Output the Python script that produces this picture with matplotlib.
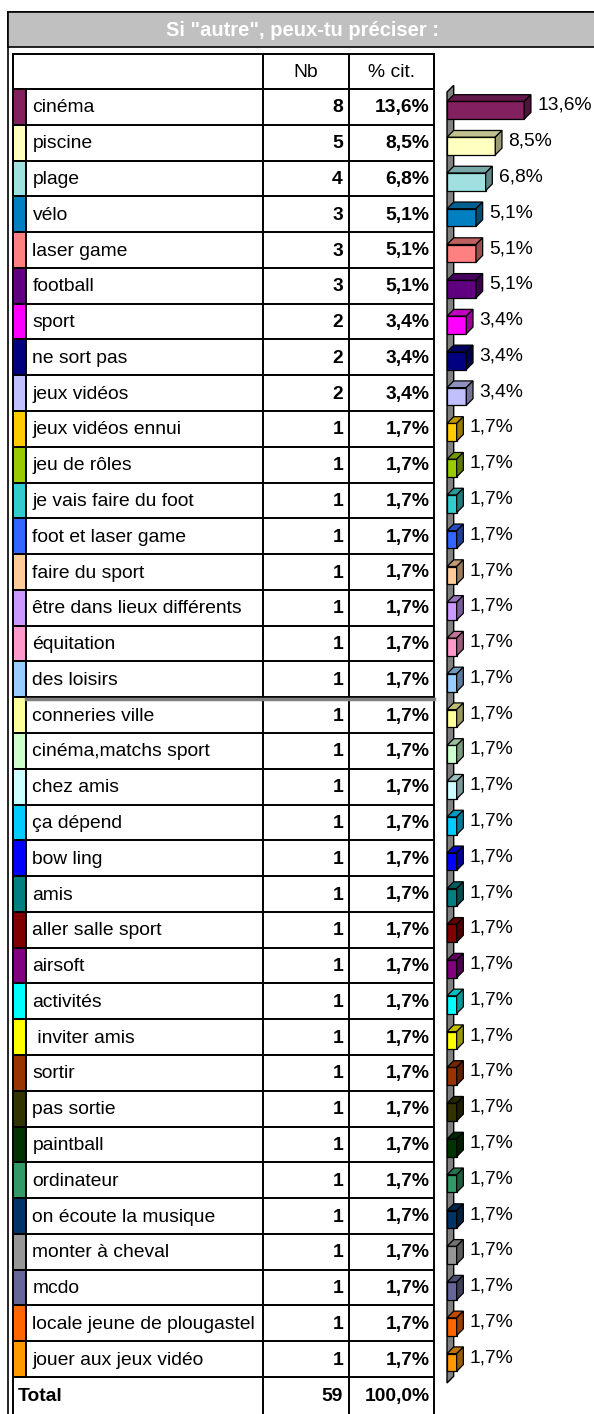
import matplotlib
matplotlib.use("Agg")
import matplotlib.pyplot as plt
from matplotlib.patches import Rectangle, Polygon

plt.rcParams['font.family'] = ['Liberation Sans', 'DejaVu Sans']

# ---------------- data ----------------
title = 'Si "autre", peux-tu préciser :'
header = ["Nb", "% cit."]
categories = [
    "cinéma", "piscine", "plage", "vélo", "laser game", "football", "sport",
    "ne sort pas", "jeux vidéos", "jeux vidéos ennui", "jeu de rôles",
    "je vais faire du foot", "foot et laser game", "faire du sport",
    "être dans lieux différents", "équitation", "des loisirs",
    "conneries ville", "cinéma,matchs sport", "chez amis", "ça dépend",
    "bow ling", "amis", "aller salle sport", "airsoft", "activités",
    " inviter amis", "sortir", "pas sortie", "paintball", "ordinateur",
    "on écoute la musique", "monter à cheval", "mcdo",
    "locale jeune de plougastel", "jouer aux jeux vidéo",
]
counts = [8, 5, 4, 3, 3, 3, 2, 2, 2] + [1] * 27
pcts = [13.6, 8.5, 6.8, 5.1, 5.1, 5.1, 3.4, 3.4, 3.4] + [1.7] * 27
total_count = 59
total_pct = 100.0
colors = [
    "#822060", "#FFFFC0", "#A0E0E0", "#0080C0", "#FF8080", "#600080",
    "#FF00FF", "#000080", "#C0C0FF", "#FFCC00", "#99CC00", "#33CCCC",
    "#3366FF", "#FFCC99", "#CC99FF", "#FF99CC", "#99CCFF", "#FFFF99",
    "#CCFFCC", "#CCFFFF", "#00CCFF", "#0000FF", "#008080", "#800000",
    "#800080", "#00FFFF", "#FFFF00", "#993300", "#333300", "#003300",
    "#339966", "#003366", "#969696", "#666699", "#FF6600", "#FF9900",
]


def fmt(v):
    return f"{v:.1f}".replace(".", ",") + "%"


def shade(c, f):
    r, g, b = matplotlib.colors.to_rgb(c)
    return (r * f, g * f, b * f)


# ---------------- layout (pixels) ----------------
W, H = 594, 1414
fig = plt.figure(figsize=(W / 100, H / 100), dpi=100)
lay = fig.add_axes([0, 0, 1, 1])
lay.set_xlim(0, W)
lay.set_ylim(H, 0)
lay.axis("off")

FS = 13.9
LW = 1.4
n = len(categories)
X_FRAME = 7.5
X_L, X_SW, X_NB, X_PC, X_R = 12.5, 26, 263, 349, 434
Y_TITLE0, Y_TITLE1 = 12, 47
Y_HEAD = 53.5
ROW0 = 89
ROW_END = 1377
RH = (ROW_END - ROW0) / n

# outer frame + title bar
lay.add_patch(Rectangle((X_FRAME, Y_TITLE0), W, H, fc="white", ec="black", lw=1.2, zorder=0))
lay.add_patch(Rectangle((X_FRAME, Y_TITLE0), W, Y_TITLE1 - Y_TITLE0, fc="#C0C0C0",
                        ec="black", lw=1.2, zorder=1))
lay.text((X_FRAME + W) / 2 + 2, (Y_TITLE0 + Y_TITLE1) / 2 + 0.5, title, color="white",
         fontsize=FS + 0.6, fontweight="bold", ha="center", va="center", zorder=2)

# header row
lay.add_patch(Rectangle((X_L, Y_HEAD), X_R - X_L, ROW0 - Y_HEAD, fc="none", ec="black", lw=LW))
for xl in (X_NB, X_PC):
    lay.plot([xl, xl], [Y_HEAD, H + 5], color="black", lw=LW, solid_capstyle="butt")
lay.text((X_NB + X_PC) / 2, (Y_HEAD + ROW0) / 2 + 1, header[0], fontsize=FS,
         ha="center", va="center")
lay.text((X_PC + X_R) / 2, (Y_HEAD + ROW0) / 2 + 1, header[1], fontsize=FS,
         ha="center", va="center")
lay.plot([X_L, X_L], [Y_HEAD, H + 5], color="black", lw=LW)
lay.plot([X_R, X_R], [Y_HEAD, H + 5], color="black", lw=LW)

# data rows
for i, (cat, p, col) in enumerate(zip(categories, pcts, colors)):
    y0 = ROW0 + i * RH
    yc = y0 + RH / 2
    lay.add_patch(Rectangle((X_L, y0), X_SW - X_L, RH, fc=col, ec="black", lw=LW))
    lay.plot([X_L, X_R], [y0 + RH, y0 + RH], color="black", lw=LW)
    lay.text(X_SW + 6.5, yc + 1, cat, fontsize=FS, ha="left", va="center")
    lay.text(X_PC - 6, yc + 1, str(counts[i]), fontsize=FS, fontweight="bold",
             ha="right", va="center")
    lay.text(X_R - 4.5, yc + 1, fmt(p), fontsize=FS, fontweight="bold",
             ha="right", va="center")

# separator between "des loisirs" and "conneries ville"
ysep = ROW0 + 17 * RH
lay.plot([X_SW, X_R], [ysep + 1.5, ysep + 1.5], color="#808080", lw=2.5, zorder=3)

# total row
yt = ROW_END + (H - ROW_END) / 2
lay.text(X_L + 5, yt + 1, "Total", fontsize=FS, fontweight="bold", ha="left", va="center")
lay.text(X_PC - 6, yt + 1, str(total_count), fontsize=FS, fontweight="bold",
         ha="right", va="center")
lay.text(X_R - 4.5, yt + 1, fmt(total_pct), fontsize=FS, fontweight="bold",
         ha="right", va="center")

# ---------------- 3D bar chart ----------------
X0 = 447
PX_PER_PCT = 5.68
ax = fig.add_axes([X0 / W, 1 - ROW_END / H, (W - X0) / W, (ROW_END - ROW0) / H])
ax.set_xlim(0, (W - X0) / PX_PER_PCT)
ax.set_ylim(n - 0.5, -0.5)
ax.axis("off")

DEPTH_PX = 6.7
dx = DEPTH_PX / PX_PER_PCT
dy = DEPTH_PX / RH
bar_h = 17.7 / RH
ypos = [i + dy / 2 for i in range(n)]

# side wall
wall_top = -0.5 + 3 / RH
wall_bot = n - 0.5 + 6 / RH
ax.add_patch(Polygon([(0, wall_top), (dx, wall_top - dy), (dx, wall_bot - dy), (0, wall_bot)],
                     closed=True, fc="#808080", ec="black", lw=1.0, clip_on=False, zorder=1))

bars = ax.barh(ypos, pcts, height=bar_h, left=0, color=colors, edgecolor="black",
               lw=0.9, zorder=3, clip_on=False)
for b, col, p, i in zip(bars, colors, pcts, range(n)):
    x0, yb = b.get_x(), b.get_y()
    x1 = x0 + b.get_width()
    ytop, ybot = yb, yb + b.get_height()
    ax.add_patch(Polygon([(x0, ytop), (x1, ytop), (x1 + dx, ytop - dy), (x0 + dx, ytop - dy)],
                         closed=True, fc=shade(col, 0.75), ec="black", lw=0.9,
                         clip_on=False, zorder=3))
    ax.add_patch(Polygon([(x1, ytop), (x1 + dx, ytop - dy), (x1 + dx, ybot - dy), (x1, ybot)],
                         closed=True, fc=shade(col, 0.6), ec="black", lw=0.9,
                         clip_on=False, zorder=3))
    ax.text(p + 13 / PX_PER_PCT, i - 1.5 / RH, fmt(p), fontsize=FS, ha="left",
            va="center", clip_on=False)

fig.savefig("out.png", dpi=100)
